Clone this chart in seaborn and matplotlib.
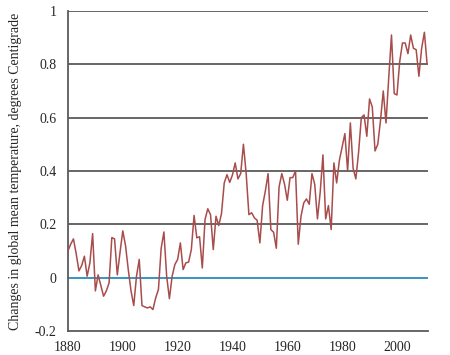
import pandas as pd
import seaborn as sns
import matplotlib.pyplot as plt

# annual temperature change (1880-2011)
years = list(range(1880, 2012))
temps = [
    0.10, 0.125, 0.145, 0.09, 0.025, 0.045, 0.08, 0.005, 0.055, 0.165,    # 1880s
    -0.05, 0.01, -0.03, -0.07, -0.05, -0.02, 0.15, 0.145, 0.01, 0.095,    # 1890s
    0.175, 0.12, 0.03, -0.05, -0.105, 0.005, 0.068, -0.105, -0.11, -0.114,  # 1900s
    -0.11, -0.12, -0.076, -0.045, 0.11, 0.171, 0.005, -0.079, 0.005, 0.049,  # 1910s
    0.068, 0.13, 0.03, 0.055, 0.058, 0.105, 0.233, 0.149, 0.153, 0.036,   # 1920s
    0.218, 0.258, 0.236, 0.105, 0.23, 0.195, 0.24, 0.355, 0.386, 0.357,   # 1930s
    0.385, 0.43, 0.37, 0.39, 0.50, 0.39, 0.236, 0.243, 0.224, 0.215,      # 1940s
    0.13, 0.27, 0.325, 0.39, 0.18, 0.17, 0.11, 0.34, 0.39, 0.35,          # 1950s
    0.29, 0.375, 0.375, 0.40, 0.125, 0.23, 0.28, 0.295, 0.275, 0.39,      # 1960s
    0.35, 0.22, 0.32, 0.46, 0.22, 0.27, 0.18, 0.43, 0.355, 0.44,          # 1970s
    0.49, 0.54, 0.40, 0.58, 0.41, 0.37, 0.47, 0.60, 0.61, 0.53,           # 1980s
    0.67, 0.64, 0.475, 0.50, 0.59, 0.70, 0.58, 0.75, 0.91, 0.69,          # 1990s
    0.685, 0.81, 0.88, 0.88, 0.84, 0.91, 0.86, 0.855, 0.755, 0.86,        # 2000s
    0.92, 0.80,                                                           # 2010s
]
x_ticks = [1880, 1900, 1920, 1940, 1960, 1980, 2000]
y_ticks = [-0.2, 0, 0.2, 0.4, 0.6, 0.8, 1]
y_labels = ['-0.2', '0', '0.2', '0.4', '0.6', '0.8', '1']

df = pd.DataFrame({'Year': years, 'Temp': temps})

sns.set_style('white')
plt.rcParams['font.family'] = ['Liberation Serif', 'DejaVu Serif']

fig = plt.figure(figsize=(4.5, 3.55), dpi=100)
ax = fig.add_axes([0.151, 0.068, 0.80, 0.901])

# horizontal guide lines, blue one at zero
for v in y_ticks[2:]:
    ax.axhline(v, color='#5a5a5a', lw=1.3, zorder=1)
ax.axhline(0, color='#2a8cbc', lw=1.3, zorder=1)

sns.lineplot(data=df, x='Year', y='Temp', color='#a84c4c', lw=1.1, ax=ax, zorder=3)

ax.set_xlim(1880, 2011.3)
ax.set_ylim(-0.2, 1)
ax.set_xticks(x_ticks)
ax.set_yticks(y_ticks)
ax.set_yticklabels(y_labels)
ax.tick_params(axis='x', direction='inout', length=5, width=1, color='#5a5a5a',
               labelsize=10, pad=5)
ax.tick_params(axis='y', direction='out', length=3, width=1, color='#5a5a5a',
               labelsize=10, pad=5)
for side in ['top', 'right']:
    ax.spines[side].set_visible(False)
for side in ['left', 'bottom']:
    ax.spines[side].set_color('#5a5a5a')
    ax.spines[side].set_linewidth(1.3)

ax.set_xlabel('')
ax.set_ylabel('Changes in global mean temperature, degrees Centigrade', fontsize=10, labelpad=9)

fig.savefig('out.png', dpi=100)
